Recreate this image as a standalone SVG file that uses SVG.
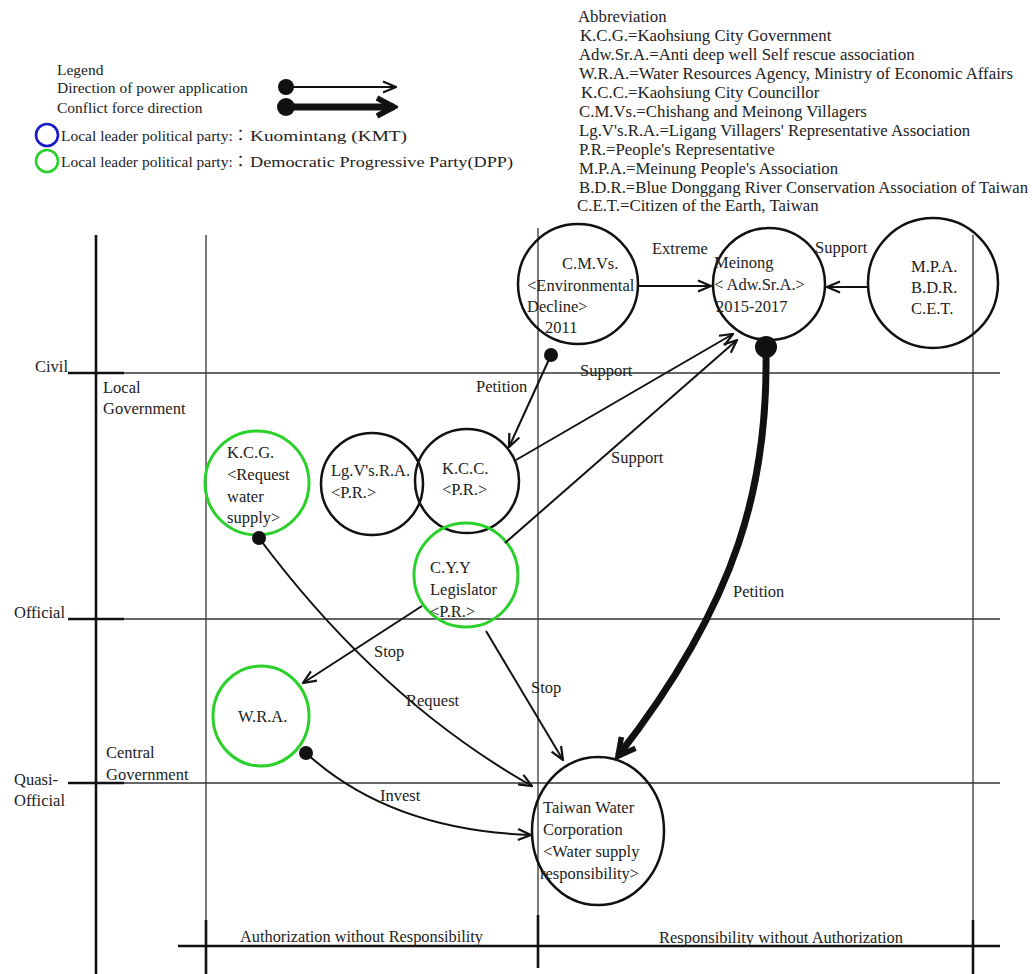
<svg xmlns="http://www.w3.org/2000/svg" width="1032" height="974" viewBox="0 0 1032 974">
<style>
text{font-family:"Liberation Serif","Times New Roman","Noto Sans CJK TC",serif;font-size:16.5px;fill:#222}
.lg{font-size:15.5px}
.ab{font-size:16.8px}
.grid{stroke:#333;stroke-width:1.3;fill:none}
.thick{stroke:#111;stroke-width:2.6;fill:none}
.nb{fill:none;stroke:#111;stroke-width:2.5}
.ng{fill:none;stroke:#2ad12a;stroke-width:3}
.c{fill:none;stroke:#111;stroke-width:2}
.ct{fill:none;stroke:#111;stroke-width:7}
.dot{fill:#111}
</style>
<defs>
<marker id="ah" viewBox="0 0 16 14" refX="15" refY="7" markerWidth="16" markerHeight="14" markerUnits="userSpaceOnUse" orient="auto"><path d="M2,1.5 L15,7 L2,12.5" fill="none" stroke="#111" stroke-width="2.2"/></marker>
<marker id="ahT" viewBox="0 0 24 24" refX="20" refY="12" markerWidth="24" markerHeight="24" markerUnits="userSpaceOnUse" orient="auto"><path d="M3,3 L20,12 L3,21" fill="none" stroke="#111" stroke-width="5.5"/></marker>
</defs>
<rect width="1032" height="974" fill="#fff"/>

<g id="grid">
<line class="thick" x1="96" y1="235" x2="96" y2="974"/>
<line class="grid" x1="206" y1="235" x2="206" y2="920"/>
<line class="thick" x1="206" y1="920" x2="206" y2="974"/>
<line class="grid" x1="538" y1="228" x2="538" y2="915"/>
<line class="thick" x1="538" y1="915" x2="538" y2="968"/>
<line class="grid" x1="973" y1="235" x2="973" y2="920"/>
<line class="thick" x1="973" y1="920" x2="973" y2="974"/>
<line class="grid" x1="124" y1="373" x2="1000" y2="373"/>
<line class="thick" x1="68" y1="373" x2="124" y2="373"/>
<line class="grid" x1="124" y1="619" x2="1000" y2="619"/>
<line class="thick" x1="68" y1="619" x2="124" y2="619"/>
<line class="grid" x1="124" y1="783" x2="1000" y2="783"/>
<line class="thick" x1="68" y1="783" x2="124" y2="783"/>
<line class="thick" x1="178" y1="946" x2="1000" y2="946" stroke-width="3"/>
<text x="35" y="372">Civil</text>
<text x="103" y="393">Local</text>
<text x="103" y="414">Government</text>
<text x="14" y="618">Official</text>
<text x="106" y="758">Central</text>
<text x="106" y="780">Government</text>
<text x="14" y="785">Quasi-</text>
<text x="14" y="806">Official</text>
<text x="240" y="942" textLength="243" lengthAdjust="spacingAndGlyphs">Authorization without Responsibility</text>
<text x="659" y="943" textLength="244" lengthAdjust="spacingAndGlyphs">Responsibility without Authorization</text>
</g>

<g id="legend">
<text class="lg" x="57" y="75">Legend</text>
<text class="lg" x="57" y="93">Direction of power application</text>
<text class="lg" x="57" y="113">Conflict force direction</text>
<circle class="dot" cx="286" cy="87" r="8"/>
<line class="c" x1="286" y1="87" x2="396" y2="87" stroke-width="2.5" marker-end="url(#ah)"/>
<circle class="dot" cx="286" cy="107" r="9"/>
<line class="ct" x1="286" y1="107" x2="394" y2="107" stroke-width="6" marker-end="url(#ahT)"/>
<circle cx="47" cy="135" r="11" fill="none" stroke="#1a1ac8" stroke-width="2.6"/>
<text class="lg" x="61" y="141">Local leader political party:：</text>
<text class="lg" x="250" y="141" textLength="157" lengthAdjust="spacingAndGlyphs">Kuomintang (KMT)</text>
<circle cx="47" cy="161" r="11" fill="none" stroke="#2ad12a" stroke-width="2.6"/>
<text class="lg" x="61" y="167">Local leader political party:：</text>
<text class="lg" x="250" y="167" textLength="263" lengthAdjust="spacingAndGlyphs">Democratic Progressive Party(DPP)</text>
</g>

<g id="abbreviation">
<text class="ab" x="578" y="22">Abbreviation</text>
<text class="ab" x="580" y="41">K.C.G.=Kaohsiung City Government</text>
<text class="ab" x="579" y="60">Adw.Sr.A.=Anti deep well Self rescue association</text>
<text class="ab" x="579" y="79">W.R.A.=Water Resources Agency, Ministry of Economic Affairs</text>
<text class="ab" x="581" y="98">K.C.C.=Kaohsiung City Councillor</text>
<text class="ab" x="579" y="117">C.M.Vs.=Chishang and Meinong Villagers</text>
<text class="ab" x="579" y="136">Lg.V's.R.A.=Ligang Villagers' Representative Association</text>
<text class="ab" x="579" y="155">P.R.=People's Representative</text>
<text class="ab" x="579" y="174">M.P.A.=Meinung People's Association</text>
<text class="ab" x="579" y="193" textLength="449" lengthAdjust="spacingAndGlyphs">B.D.R.=Blue Donggang River Conservation Association of Taiwan</text>
<text class="ab" x="577" y="211">C.E.T.=Citizen of the Earth, Taiwan</text>
</g>

<g id="node-cmvs">
<circle class="nb" cx="578" cy="284" r="60"/>
<text x="562" y="269">C.M.Vs.</text>
<text x="527" y="291">&lt;Environmental</text>
<text x="527" y="312">Decline&gt;</text>
<text x="545" y="333">2011</text>
</g>
<g id="node-meinong">
<circle class="nb" cx="769" cy="284" r="56"/>
<text x="714" y="268">Meinong</text>
<text x="714" y="290">&lt; Adw.Sr.A.&gt;</text>
<text x="716" y="312">2015-2017</text>
</g>
<g id="node-mpa">
<circle class="nb" cx="933" cy="283" r="65"/>
<text x="911" y="272">M.P.A.</text>
<text x="911" y="293">B.D.R.</text>
<text x="911" y="314">C.E.T.</text>
</g>
<g id="node-kcg">
<circle class="ng" cx="257" cy="483" r="52"/>
<text x="227" y="458">K.C.G.</text>
<text x="227" y="480">&lt;Request</text>
<text x="227" y="502">water</text>
<text x="227" y="523">supply&gt;</text>
</g>
<g id="node-lgvsra">
<circle class="nb" cx="372" cy="484" r="51"/>
<text x="331" y="476">Lg.V's.R.A.</text>
<text x="331" y="498">&lt;P.R.&gt;</text>
</g>
<g id="node-kcc">
<circle class="nb" cx="467" cy="481" r="52"/>
<text x="442" y="474">K.C.C.</text>
<text x="442" y="495">&lt;P.R.&gt;</text>
</g>
<g id="node-cyy">
<circle class="ng" cx="466" cy="575" r="52"/>
<text x="430" y="573">C.Y.Y</text>
<text x="430" y="595">Legislator</text>
<text x="430" y="617">&lt;P.R.&gt;</text>
</g>
<g id="node-wra">
<ellipse class="ng" cx="261" cy="716" rx="48" ry="50"/>
<text x="238" y="722">W.R.A.</text>
</g>
<g id="node-twc">
<ellipse class="nb" cx="598" cy="831" rx="66" ry="74"/>
<text x="543" y="813">Taiwan Water</text>
<text x="543" y="835">Corporation</text>
<text x="543" y="857">&lt;Water supply</text>
<text x="540" y="879">responsibility&gt;</text>
</g>

<g id="connectors">
<line class="c" x1="638" y1="286" x2="711" y2="286" marker-end="url(#ah)"/>
<line class="c" x1="868" y1="287" x2="827" y2="287" marker-end="url(#ah)"/>
<circle class="dot" cx="551" cy="355" r="7"/>
<line class="c" x1="551" y1="355" x2="509" y2="447" marker-end="url(#ah)"/>
<line class="c" x1="516" y1="460" x2="733" y2="334" marker-end="url(#ah)"/>
<line class="c" x1="505" y1="543" x2="737" y2="340" marker-end="url(#ah)"/>
<circle class="dot" cx="766" cy="347" r="11"/>
<path class="ct" d="M766,352 C768,480 740,600 618,756" marker-end="url(#ahT)"/>
<circle class="dot" cx="259" cy="538" r="7"/>
<path class="c" d="M259,538 Q380,700 532,786" marker-end="url(#ah)"/>
<line class="c" x1="422" y1="606" x2="303" y2="683" marker-end="url(#ah)"/>
<line class="c" x1="486" y1="631" x2="563" y2="760" marker-end="url(#ah)"/>
<circle class="dot" cx="306" cy="753" r="7"/>
<path class="c" d="M306,753 Q390,830 531,835" marker-end="url(#ah)"/>
<text x="652" y="254">Extreme</text>
<text x="815" y="253">Support</text>
<text x="476" y="392">Petition</text>
<text x="580" y="376">Support</text>
<text x="611" y="463">Support</text>
<text x="733" y="597">Petition</text>
<text x="406" y="706">Request</text>
<text x="374" y="657">Stop</text>
<text x="531" y="693">Stop</text>
<text x="380" y="801">Invest</text>
</g>
</svg>
